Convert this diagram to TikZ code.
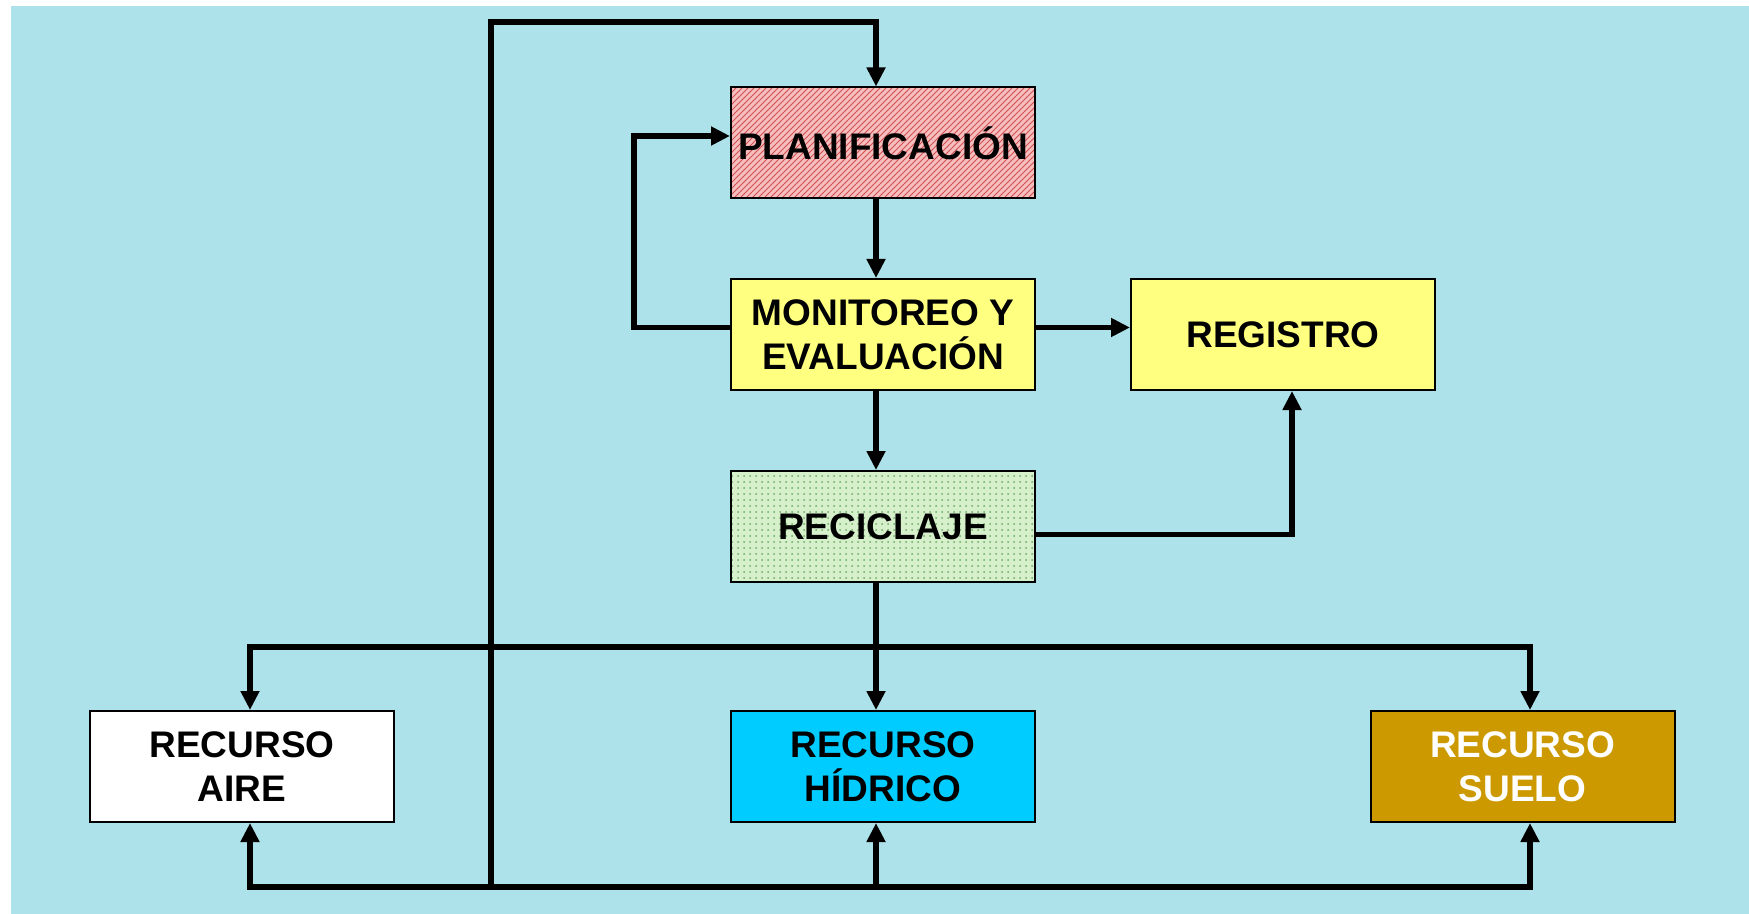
\documentclass[tikz,border=0pt]{standalone}
\usepackage{fontspec}
\setmainfont{Liberation Sans}
\usetikzlibrary{calc,patterns,arrows.meta}

\definecolor{fondo}{RGB}{174,226,234}
\definecolor{amarillo}{RGB}{255,255,128}
\definecolor{rosa}{RGB}{246,190,190}
\definecolor{rayas}{RGB}{210,80,80}
\definecolor{verdeclaro}{RGB}{214,240,204}
\definecolor{puntos}{RGB}{110,170,100}
\definecolor{celeste}{RGB}{0,204,255}
\definecolor{ocre}{RGB}{204,153,0}

\begin{document}
\begin{tikzpicture}[x=0.5pt, y=-0.5pt,
    caja/.style ={rectangle, draw, line width=1pt, inner sep=0pt, minimum width=152pt, minimum height=55.5pt, align=center, font=\fontsize{18.5}{22}\selectfont\bfseries},
    linea/.style ={line width=2.8pt, line cap=rect},
    flecha/.style ={line width=2.8pt, -{Triangle[length=9.5pt,width=9pt]}}]
   \useasboundingbox (0,0) rectangle (1749,914);
   \fill[fondo] (11,6) rectangle (1749,914);

   \node[caja, preaction={fill=rosa}, pattern=north east lines, pattern color=rayas] (plan) at (883,143) {PLANIFICACI\'ON};
   \node[caja, fill=amarillo] (mon) at (883,334.5) {MONITOREO Y\\EVALUACI\'ON};
   \node[caja, fill=amarillo] (reg) at (1283,334.5) {REGISTRO};
   \node[caja, preaction={fill=verdeclaro}, pattern=dots, pattern color=puntos] (rec) at (883,526.5) {RECICLAJE};
   \node[caja, fill=white] (aire) at (242,766.5) {RECURSO\\AIRE};
   \node[caja, fill=celeste] (hid) at (883,766.5) {RECURSO\\H\'IDRICO};
   \node[caja, fill=ocre, text=white] (suelo) at (1522.5,766.5) {RECURSO\\SUELO};

   \coordinate (izq) at (491,887);
   \coordinate (arriba) at (491,22);
   \coordinate (hI) at (250,647);
   \coordinate (hD) at (1530,647);
   \coordinate (bI) at (250,887);
   \coordinate (bC) at (876,887);
   \coordinate (bD) at (1530,887);

   % lazo superior
   \draw[flecha] (izq) -- (arriba) -| ([xshift=-3.5pt]plan.north);
   \draw[flecha] ([yshift=3.5pt]mon.west) -- ++(-96,0) |- ([yshift=3.5pt]plan.west);
   \draw[flecha] ([xshift=-3.5pt]plan.south) -- ([xshift=-3.5pt]mon.north);
   \draw[flecha] ([xshift=-3.5pt]mon.south) -- ([xshift=-3.5pt]rec.north);
   \draw[flecha] ([yshift=3.5pt]mon.east) -- ([yshift=3.5pt]reg.west);
   \draw[flecha] ([yshift=-4pt]rec.east) -| ([xshift=4.5pt]reg.south);

   % reparto a los recursos
   \draw[linea] (hI) -- (hD);
   \draw[flecha] (hI) -- (hI |- aire.north);
   \draw[flecha] (hD) -- (hD |- suelo.north);
   \draw[flecha] ([xshift=-3.5pt]rec.south) -- ([xshift=-3.5pt]hid.north);

   % retorno inferior
   \draw[linea] (bI) -- (bD);
   \draw[flecha] (bI) -- (bI |- aire.south);
   \draw[flecha] (bC) -- (bC |- hid.south);
   \draw[flecha] (bD) -- (bD |- suelo.south);
\end{tikzpicture}
\end{document}
